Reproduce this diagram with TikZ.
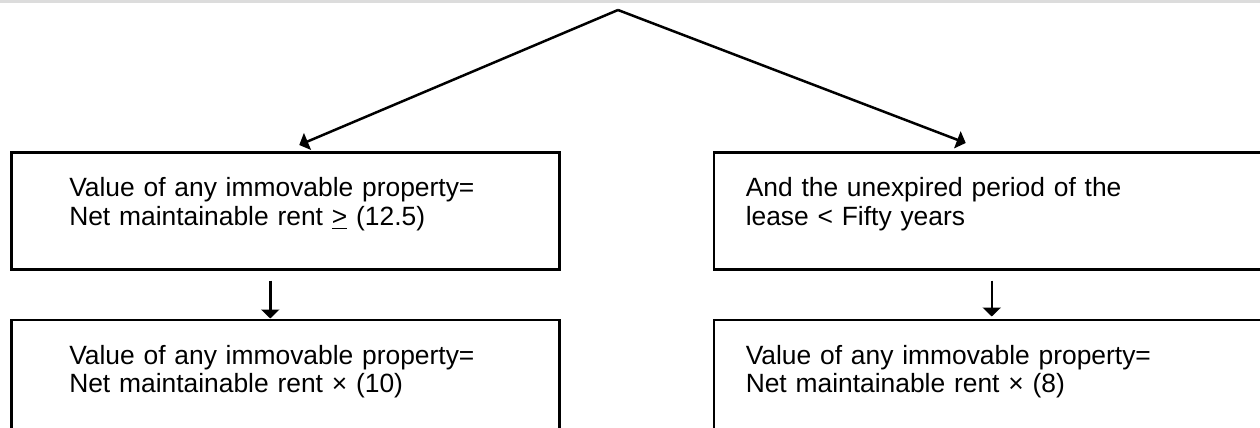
\documentclass[tikz,border=0pt]{standalone}
\usepackage{fontspec}
\setmainfont{Liberation Sans}
\usepackage{tikz}
\usetikzlibrary{arrows.meta,positioning}
\definecolor{stripgray}{RGB}{220,220,220}
\tikzstyle{valbox} = [rectangle, draw=black, line width=1.25pt, minimum width=274pt, minimum height=58.5pt, inner ysep=0pt, align=left, font=\fontsize{13.2pt}{14.15pt}\selectfont]
\tikzstyle{lbox} = [valbox, inner xsep=29pt, text width=216pt]
\tikzstyle{rbox} = [valbox, inner xsep=16pt, text width=242pt]
\tikzstyle{arrow} = [line width=1.25pt,-{Triangle[length=4.5pt,width=9pt]}]
\newcommand{\boxpad}{\rule[-9.3pt]{0pt}{9.3pt}}

\begin{document}
\begin{tikzpicture}[node distance=24pt]
\useasboundingbox (0,0) rectangle (630pt,-214pt);
% strip along the top edge
\fill[stripgray] (0,0) rectangle (630pt,-1.5pt);
% split point
\coordinate (top) at (309pt,-5pt);
% value boxes
\node[lbox, anchor=north west] (l1) at (5pt,-75.5pt) {
Value of any immovable property=\\Net maintainable rent \underline{>} (12.5)\boxpad
};
\node[rbox, right=76pt of l1] (r1) {
And the unexpired period of the\\lease < Fifty years\boxpad
};
\node[lbox, below=of l1] (l2) {
Value of any immovable property=\\Net maintainable rent × (10)\boxpad
};
\node[rbox, below=of r1] (r2) {
Value of any immovable property=\\Net maintainable rent × (8)\boxpad
};

\draw[arrow] (top) -- ([shift={(7pt,3pt)}]l1.north);
\draw[arrow] (top) -- ([shift={(-11pt,4pt)}]r1.north);
\draw[arrow] ([shift={(-7.5pt,-5pt)}]l1.south) -- ([xshift=-7.5pt]l2.north);
\draw[arrow] ([shift={(2pt,-5pt)}]r1.south) -- ([shift={(2pt,1pt)}]r2.north);
\end{tikzpicture}
\end{document}
